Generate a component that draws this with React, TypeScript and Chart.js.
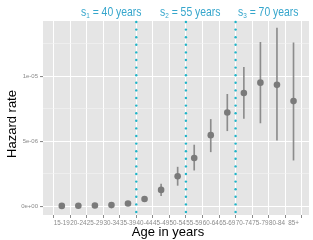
import React, { useEffect, useRef } from "react";
import { Chart, registerables } from "chart.js";

Chart.register(...registerables);

const ageGroups = ["15-19", "20-24", "25-29", "30-34", "35-39", "40-44", "45-49", "50-54", "55-59", "60-64", "65-69", "70-74", "75-79", "80-84", "85+"];
const hazard = [0.02e-6, 0.03e-6, 0.05e-6, 0.08e-6, 0.2e-6, 0.55e-6, 1.25e-6, 2.3e-6, 3.7e-6, 5.46e-6, 7.2e-6, 8.7e-6, 9.5e-6, 9.33e-6, 8.08e-6];
const lower = [0.0, 0.01e-6, 0.02e-6, 0.04e-6, 0.12e-6, 0.4e-6, 0.8e-6, 1.6e-6, 2.77e-6, 4.18e-6, 5.8e-6, 6.75e-6, 6.4e-6, 5.08e-6, 3.54e-6];
const upper = [0.04e-6, 0.05e-6, 0.08e-6, 0.12e-6, 0.3e-6, 0.72e-6, 1.7e-6, 3.0e-6, 4.7e-6, 6.67e-6, 8.6e-6, 10.67e-6, 12.6e-6, 13.7e-6, 12.56e-6];
const yTicks = [0, 2.5e-6, 5e-6, 7.5e-6, 10e-6, 12.5e-6];
const thresholdAges = [40, 55, 70];
const thresholdPositions = [4.5, 7.5, 10.5];
const thresholdLabelX = [81, 160, 238];

const TEXT_FONT = "'Liberation Sans', Arial, sans-serif";

function majorLabel(v: number): string {
  if (Math.abs(v) < 1e-12) return "0e+00";
  if (Math.abs(v - 5e-6) < 1e-12) return "5e-06";
  if (Math.abs(v - 1e-5) < 1e-12) return "1e-05";
  return "";
}

export default function App() {
  const ref = useRef<HTMLCanvasElement | null>(null);
  useEffect(() => {
    if (!ref.current) return;
    const panelPlugin = {
      id: "panel",
      beforeDraw(chart: any) {
        const { ctx, chartArea } = chart;
        ctx.save();
        ctx.fillStyle = "#E5E5E5";
        ctx.fillRect(chartArea.left, chartArea.top, chartArea.right - chartArea.left, chartArea.bottom - chartArea.top);
        ctx.restore();
      },
      afterDatasetsDraw(chart: any) {
        const { ctx, chartArea, scales } = chart;
        ctx.save();
        ctx.fillStyle = "#1FB4C8";
        thresholdPositions.forEach((p) => {
          const x = scales.x.getPixelForValue(p);
          for (let y = chartArea.bottom - 3; y > chartArea.top; y -= 7.6) {
            ctx.beginPath();
            ctx.arc(x, y, 1.2, 0, Math.PI * 2);
            ctx.fill();
          }
        });
        ctx.restore();
      },
      afterDraw(chart: any) {
        const { ctx } = chart;
        ctx.save();
        // threshold labels (condensed horizontally like the original narrow face)
        ctx.fillStyle = "#36A6CC";
        ctx.textBaseline = "alphabetic";
        ctx.textAlign = "left";
        const squeeze = 0.8;
        thresholdAges.forEach((age, i) => {
          ctx.save();
          ctx.translate(thresholdLabelX[i], 16);
          ctx.scale(squeeze, 1);
          let x = 0;
          ctx.font = `13px ${TEXT_FONT}`;
          ctx.fillText("s", x, 0);
          x += ctx.measureText("s").width;
          ctx.font = `8px ${TEXT_FONT}`;
          ctx.fillText(String(i + 1), x, 2);
          x += ctx.measureText(String(i + 1)).width;
          ctx.font = `13px ${TEXT_FONT}`;
          ctx.fillText(` = ${age} years`, x, 0);
          ctx.restore();
        });
        // axis titles
        ctx.fillStyle = "#000000";
        ctx.font = `13px ${TEXT_FONT}`;
        ctx.textAlign = "center";
        ctx.textBaseline = "middle";
        ctx.fillText("Age in years", 168, 232);
        ctx.translate(12, 124);
        ctx.rotate(-Math.PI / 2);
        ctx.fillText("Hazard rate", 0, 0);
        ctx.restore();
      },
    };

    const chart = new Chart(ref.current, {
      type: "bar",
      data: {
        datasets: [
          {
            type: "scatter",
            label: "Hazard",
            data: hazard.map((v, i) => ({ x: i, y: v })),
            backgroundColor: "#7A7A7A",
            borderColor: "#7A7A7A",
            pointRadius: 3.3,
            pointBorderWidth: 0,
            order: 0,
          } as any,
          {
            type: "bar",
            label: "CI",
            data: lower.map((lo, i) => ({ x: i, y: [lo, upper[i]] })),
            backgroundColor: "#8C8C8C",
            borderWidth: 0,
            barThickness: 1,
            order: 1,
          } as any,
        ],
      },
      options: {
        responsive: false,
        animation: false,
        devicePixelRatio: 1,
        layout: { padding: { top: 21, left: 0, right: 0, bottom: 0 } },
        plugins: { legend: { display: false }, tooltip: { enabled: false }, title: { display: false } },
        scales: {
          x: {
            type: "linear",
            min: -0.6,
            max: 14.4,
            afterBuildTicks: (scale: any) => {
              scale.ticks = ageGroups.map((_, i) => ({ value: i }));
            },
            afterFit: (scale: any) => {
              scale.height = 25;
            },
            ticks: {
              autoSkip: false,
              maxRotation: 0,
              minRotation: 0,
              padding: 1,
              color: "#8A8A8A",
              font: { family: TEXT_FONT, size: 6.3 },
              callback: (v: any) => ageGroups[Math.round(Number(v))] ?? "",
            },
            grid: {
              color: "#FFFFFF",
              lineWidth: 1,
              tickLength: 3,
              tickColor: "#8A8A8A",
            },
            border: { display: false },
          },
          y: {
            type: "linear",
            min: -0.68e-6,
            max: 14.24e-6,
            afterBuildTicks: (scale: any) => {
              scale.ticks = yTicks.map((v) => ({ value: v }));
            },
            afterFit: (scale: any) => {
              scale.width = 43;
            },
            ticks: {
              padding: 2,
              color: "#8A8A8A",
              font: { family: TEXT_FONT, size: 6 },
              callback: (v: any) => majorLabel(Number(v)),
            },
            grid: {
              color: (c: any) => (majorLabel(c.tick?.value ?? 1) !== "" ? "#FFFFFF" : "#F3F3F3"),
              lineWidth: (c: any) => (majorLabel(c.tick?.value ?? 1) !== "" ? 1.1 : 0.6),
              tickLength: 3,
              tickColor: (c: any) => (majorLabel(c.tick?.value ?? 1) !== "" ? "#8A8A8A" : "rgba(0,0,0,0)"),
            },
            border: { display: false },
          },
        },
      },
      plugins: [panelPlugin],
    } as any);
    return () => chart.destroy();
  }, []);

  return (
    <div style={{ position: "absolute", left: 0, top: 0, width: 313, height: 240, background: "#fff" }}>
      <canvas ref={ref} width={313} height={240} />
    </div>
  );
}
